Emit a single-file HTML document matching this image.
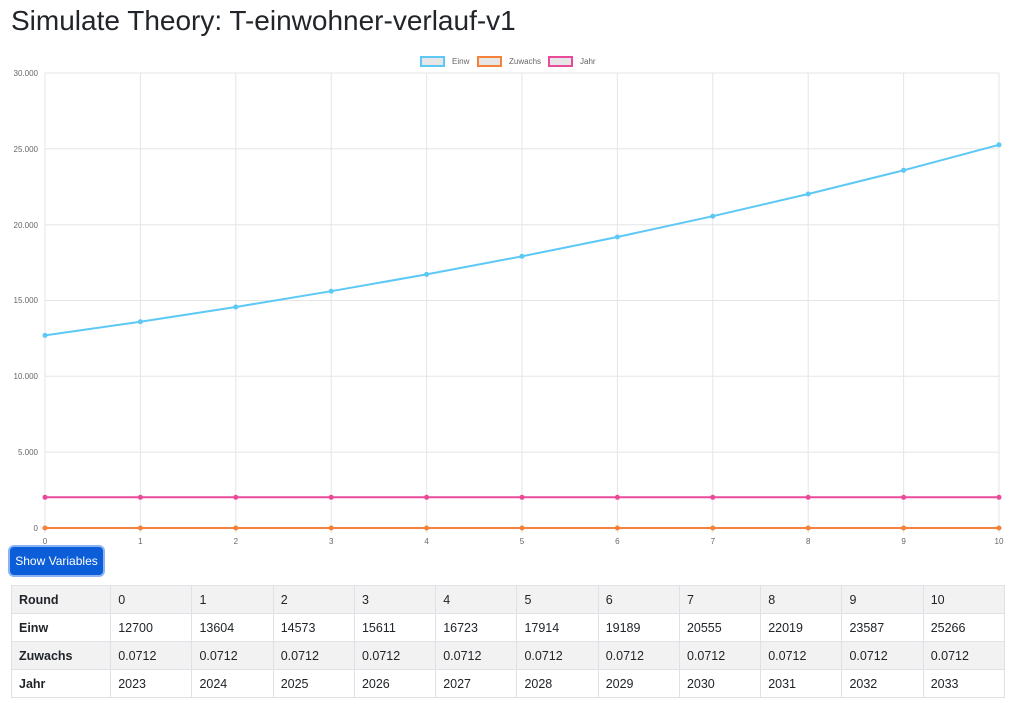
<!DOCTYPE html>
<html><head><meta charset="utf-8"><style>
body{margin:0;background:#fff;font-family:"Liberation Sans",sans-serif;color:#212529;width:1024px;height:709px;overflow:hidden;position:relative}
h1{position:absolute;left:11px;top:5px;margin:0;font-weight:400;font-size:28px}
svg{position:absolute;left:0;top:0}
.btn{position:absolute;left:10px;top:547px;width:93px;height:28px;background:#0b5ed7;color:#fff;border-radius:4px;box-shadow:0 0 0 2px #8bb4f5;font-size:12px;line-height:28px;text-align:center}
table{position:absolute;left:11px;top:585px;border-collapse:collapse;width:994px;font-size:12.5px}
td{border:1px solid #dee2e6;height:27px;padding:0 0 0 7px;width:74px}
td:first-child{width:92px;font-weight:bold}
tr:nth-child(odd) td{background:#f2f2f2}
</style></head><body>
<h1>Simulate Theory: T-einwohner-verlauf-v1</h1>
<svg width="1024" height="709" font-family="Liberation Sans" font-size="8" fill="#666">
<g stroke="#e5e5e5" stroke-width="1">
<line x1="45" y1="73" x2="999" y2="73"/><line x1="45" y1="148.8" x2="999" y2="148.8"/><line x1="45" y1="224.7" x2="999" y2="224.7"/><line x1="45" y1="300.5" x2="999" y2="300.5"/><line x1="45" y1="376.3" x2="999" y2="376.3"/><line x1="45" y1="452.2" x2="999" y2="452.2"/><line x1="40" y1="528" x2="999" y2="528"/>
<line x1="45" y1="73" x2="45" y2="533"/><line x1="140.4" y1="73" x2="140.4" y2="533"/><line x1="235.8" y1="73" x2="235.8" y2="533"/><line x1="331.2" y1="73" x2="331.2" y2="533"/><line x1="426.6" y1="73" x2="426.6" y2="533"/><line x1="522" y1="73" x2="522" y2="533"/><line x1="617.4" y1="73" x2="617.4" y2="533"/><line x1="712.8" y1="73" x2="712.8" y2="533"/><line x1="808.2" y1="73" x2="808.2" y2="533"/><line x1="903.6" y1="73" x2="903.6" y2="533"/><line x1="999" y1="73" x2="999" y2="533"/>
</g>
<g text-anchor="end"><text x="38" y="76">30.000</text><text x="38" y="152">25.000</text><text x="38" y="228">20.000</text><text x="38" y="303">15.000</text><text x="38" y="379">10.000</text><text x="38" y="455">5.000</text><text x="38" y="531">0</text></g>
<g text-anchor="middle"><text x="45" y="544">0</text><text x="140.4" y="544">1</text><text x="235.8" y="544">2</text><text x="331.2" y="544">3</text><text x="426.6" y="544">4</text><text x="522" y="544">5</text><text x="617.4" y="544">6</text><text x="712.8" y="544">7</text><text x="808.2" y="544">8</text><text x="903.6" y="544">9</text><text x="999" y="544">10</text></g>
<rect x="421" y="57" width="23" height="9" fill="#e6e6e6" stroke="#5bc8f5" stroke-width="2"/><text x="452" y="64">Einw</text>
<rect x="478" y="57" width="23" height="9" fill="#e6e6e6" stroke="#f5813a" stroke-width="2"/><text x="509" y="64">Zuwachs</text>
<rect x="549" y="57" width="23" height="9" fill="#e6e6e6" stroke="#ea4a9a" stroke-width="2"/><text x="580" y="64">Jahr</text>
<polyline fill="none" stroke="#5bc8f5" stroke-width="2" points="45,335.4 140.4,321.7 235.8,307 331.2,291.2 426.6,274.4 522,256.3 617.4,237 712.8,216.2 808.2,194 903.6,170.3 999,144.8"/>
<polyline fill="none" stroke="#ea4a9a" stroke-width="2" points="45,497.3 999,497.2"/>
<polyline fill="none" stroke="#f5813a" stroke-width="2" points="45,528 999,528"/>
<g fill="#5bc8f5"><circle cx="45" cy="335.4" r="2.5"/><circle cx="140.4" cy="321.7" r="2.5"/><circle cx="235.8" cy="307" r="2.5"/><circle cx="331.2" cy="291.2" r="2.5"/><circle cx="426.6" cy="274.4" r="2.5"/><circle cx="522" cy="256.3" r="2.5"/><circle cx="617.4" cy="237" r="2.5"/><circle cx="712.8" cy="216.2" r="2.5"/><circle cx="808.2" cy="194" r="2.5"/><circle cx="903.6" cy="170.3" r="2.5"/><circle cx="999" cy="144.8" r="2.5"/></g>
<g fill="#ea4a9a"><circle cx="45" cy="497.3" r="2.5"/><circle cx="140.4" cy="497.3" r="2.5"/><circle cx="235.8" cy="497.3" r="2.5"/><circle cx="331.2" cy="497.3" r="2.5"/><circle cx="426.6" cy="497.3" r="2.5"/><circle cx="522" cy="497.3" r="2.5"/><circle cx="617.4" cy="497.3" r="2.5"/><circle cx="712.8" cy="497.3" r="2.5"/><circle cx="808.2" cy="497.3" r="2.5"/><circle cx="903.6" cy="497.3" r="2.5"/><circle cx="999" cy="497.3" r="2.5"/></g>
<g fill="#f5813a"><circle cx="45" cy="528" r="2.5"/><circle cx="140.4" cy="528" r="2.5"/><circle cx="235.8" cy="528" r="2.5"/><circle cx="331.2" cy="528" r="2.5"/><circle cx="426.6" cy="528" r="2.5"/><circle cx="522" cy="528" r="2.5"/><circle cx="617.4" cy="528" r="2.5"/><circle cx="712.8" cy="528" r="2.5"/><circle cx="808.2" cy="528" r="2.5"/><circle cx="903.6" cy="528" r="2.5"/><circle cx="999" cy="528" r="2.5"/></g>
</svg>
<div class="btn">Show Variables</div>
<table>
<tr><td>Round</td><td>0</td><td>1</td><td>2</td><td>3</td><td>4</td><td>5</td><td>6</td><td>7</td><td>8</td><td>9</td><td>10</td></tr>
<tr><td>Einw</td><td>12700</td><td>13604</td><td>14573</td><td>15611</td><td>16723</td><td>17914</td><td>19189</td><td>20555</td><td>22019</td><td>23587</td><td>25266</td></tr>
<tr><td>Zuwachs</td><td>0.0712</td><td>0.0712</td><td>0.0712</td><td>0.0712</td><td>0.0712</td><td>0.0712</td><td>0.0712</td><td>0.0712</td><td>0.0712</td><td>0.0712</td><td>0.0712</td></tr>
<tr><td>Jahr</td><td>2023</td><td>2024</td><td>2025</td><td>2026</td><td>2027</td><td>2028</td><td>2029</td><td>2030</td><td>2031</td><td>2032</td><td>2033</td></tr>
</table>
</body></html>
